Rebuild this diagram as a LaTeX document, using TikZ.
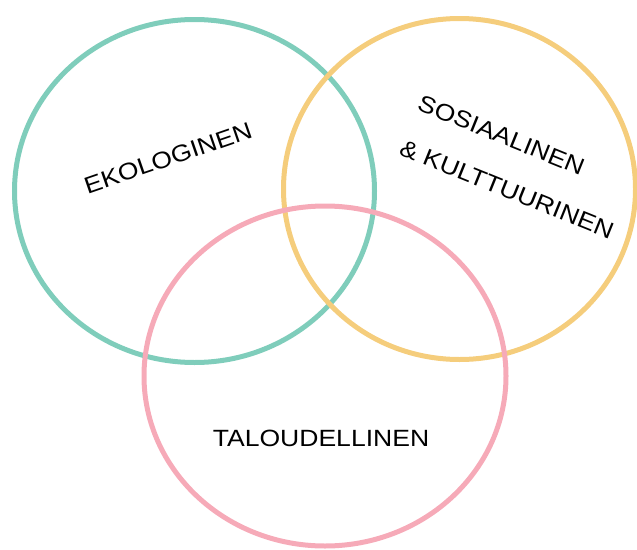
\documentclass[tikz,border=0pt]{standalone}
\usepackage{fontspec}
\setmainfont{Liberation Sans}
\definecolor{ekogreen}{RGB}{127,205,187}
\definecolor{sosyellow}{RGB}{245,205,124}
\definecolor{taloupink}{RGB}{246,170,184}

\begin{document}
\begin{tikzpicture}[x=1pt,y=-1pt,
  ring/.style={draw=#1,line width=5pt},
  lbl/.style={font=\fontsize{23.5}{48}\selectfont,inner sep=0pt,xscale=1.13}]
\useasboundingbox (0,0) rectangle (637,549);
% the three circles
\draw[ring=ekogreen] (194.5,191) ellipse [x radius=180,y radius=171.5];
\draw[ring=sosyellow] (459.5,189) ellipse [x radius=176,y radius=170.5];
\draw[ring=taloupink] (325,376) ellipse [x radius=181,y radius=170];
% labels
\node[rotate=19,lbl] (eko) at (168,158) {EKOLOGINEN};
\node[rotate=-22,lbl,align=left] (sos) at (516,167) {SOSIAALINEN\\\& KULTTUURINEN};
\node[lbl] (talous) at (321,438.7) {TALOUDELLINEN};
\end{tikzpicture}
\end{document}
